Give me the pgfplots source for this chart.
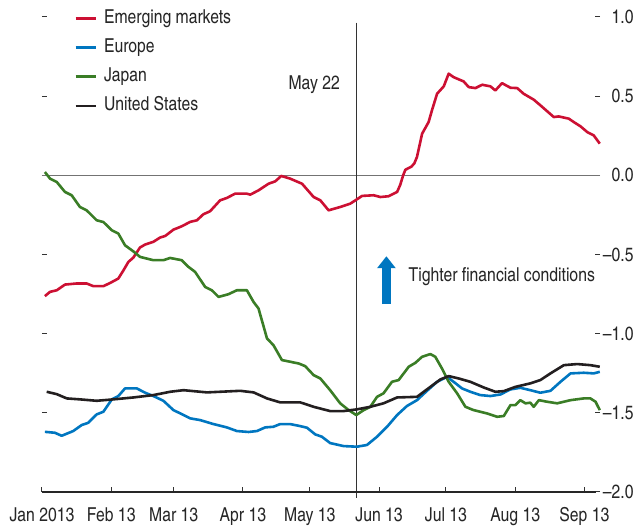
\documentclass[border=0pt]{standalone}
\usepackage{fontspec}
\setmainfont{texgyreheroscn-regular.otf}
\usepackage{pgfplots}
\pgfplotsset{compat=1.18}
\usetikzlibrary{arrows.meta}
\definecolor{emred}{RGB}{204,16,51}
\definecolor{eublue}{RGB}{0,118,192}
\definecolor{jpgreen}{RGB}{58,125,38}
\definecolor{usblack}{RGB}{35,31,32}
\begin{document}
\begin{tikzpicture}[font=\fontsize{9.6}{11}\selectfont]
\begin{axis}[name=ax,
  scale only axis, width=279pt, height=237.5pt,
  xmin=0, xmax=250, ymin=-2, ymax=1,
  clip=false,
  axis line style={draw=none},
  xtick={0,31,59,90,120,151,181,212,243},
  xticklabels={Jan 2013,Feb 13,Mar 13,Apr 13,May 13,Jun 13,Jul 13,Aug 13,Sep 13},
  ytick={-2,-1.5,-1,-0.5,0,0.5,1},
  yticklabels={–2.0,–1.5,–1.0,–0.5,0.0,0.5,1.0},
  xtick pos=bottom, ytick pos=both, yticklabel pos=right,
  tick align=inside, major tick length=2.5pt,
  tick style={line width=0.5pt, color=black!80},
  xticklabel style={anchor=base, yshift=-15pt, inner sep=0pt, text=black!85},
  yticklabel style={anchor=east, xshift=17pt, inner sep=0pt, text=black!85},
  legend cell align=left,
  legend image code/.code={\draw[#1] (0pt,0pt) -- (10pt,0pt);},
  legend style={draw=none, fill=none, at={(rel axis cs:0,1)}, anchor=north west,
    xshift=16pt, yshift=4pt, inner sep=0pt, row sep=5.6pt,
    nodes={inner sep=0pt, text height=7pt, text depth=2pt, text=black!85},
    /tikz/every odd column/.append style={column sep=3.5pt}},
  every axis plot/.append style={line width=1.3pt, line join=round},
]
\draw[black!55, line width=0.6pt] (axis cs:0,0) -- (axis cs:250,0);
\draw[black!80, line width=0.5pt] (axis cs:141,0.965) -- (axis cs:141,-2.04);
\draw[black!85, line width=0.6pt] (axis cs:0,-2) -- (axis cs:248,-2);

\addplot[color=emred] coordinates {
(1.3,-0.763)(3.6,-0.736)(6.6,-0.726)(10.3,-0.69)(15.6,-0.683)(20.0,-0.683)(23.0,-0.70)(27.5,-0.70)(30.5,-0.68)(34.2,-0.652)(36.5,-0.60)(38.7,-0.547)(40.9,-0.52)(43.9,-0.456)(46.2,-0.437)(49.9,-0.42)(52.9,-0.393)(55.2,-0.383)(58.9,-0.343)(62.6,-0.322)(66.4,-0.294)(69.4,-0.284)(72.3,-0.246)(75.3,-0.227)(79.8,-0.158)(82.8,-0.143)(86.5,-0.116)(91.8,-0.116)(93.3,-0.122)(97.0,-0.095)(101.5,-0.053)(104.5,-0.038)(107.2,-0.004)(111.2,-0.021)(116.5,-0.053)(121.7,-0.137)(124.7,-0.158)(128.4,-0.221)(133.6,-0.2)(138.1,-0.179)(140.4,-0.158)(143.4,-0.13)(148.6,-0.126)(151.6,-0.137)(155.3,-0.132)(159.1,-0.105)(160.5,-0.06)(161.8,0.0)(162.8,0.035)(165.5,0.055)(166.8,0.075)(168.0,0.116)(170.3,0.263)(173.2,0.336)(174.7,0.41)(177.0,0.515)(180.0,0.562)(182.2,0.642)(184.4,0.62)(188.9,0.593)(191.2,0.557)(194.2,0.551)(197.2,0.572)(200.9,0.562)(203.1,0.536)(206.1,0.582)(209.9,0.553)(212.9,0.551)(215.8,0.515)(220.3,0.478)(223.3,0.442)(229.3,0.368)(231.5,0.372)(236.0,0.358)(238.3,0.336)(241.3,0.309)(244.3,0.273)(247.2,0.252)(249.9,0.2)
};
\addlegendentry{Emerging markets}
\addplot[color=eublue] coordinates {
(1.3,-1.62)(5.8,-1.626)(8.8,-1.645)(14.0,-1.615)(17.8,-1.577)(20.7,-1.563)(24.5,-1.51)(27.5,-1.493)(31.3,-1.415)(34.2,-1.394)(37.2,-1.346)(42.5,-1.346)(46.2,-1.373)(49.9,-1.394)(54.4,-1.424)(58.9,-1.483)(62.6,-1.508)(66.4,-1.535)(70.9,-1.546)(76.8,-1.571)(82.8,-1.592)(87.3,-1.615)(92.5,-1.621)(96.3,-1.615)(100.0,-1.592)(103.7,-1.588)(106.7,-1.571)(111.2,-1.571)(115.7,-1.584)(118.7,-1.594)(122.4,-1.636)(125.4,-1.651)(129.1,-1.691)(135.1,-1.71)(141.1,-1.714)(145.6,-1.703)(150.1,-1.651)(154.6,-1.588)(159.1,-1.514)(163.5,-1.457)(168.0,-1.42)(172.5,-1.361)(177.0,-1.304)(181.5,-1.273)(184.4,-1.304)(188.2,-1.346)(191.9,-1.367)(196.4,-1.388)(200.9,-1.394)(205.4,-1.384)(209.9,-1.352)(214.3,-1.342)(218.8,-1.357)(223.3,-1.373)(227.8,-1.361)(232.3,-1.304)(236.8,-1.251)(242.7,-1.247)(247.2,-1.251)(249.9,-1.241)
};
\addlegendentry{Europe}
\addplot[color=jpgreen] coordinates {
(1.3,0.021)(3.6,-0.021)(6.6,-0.042)(10.3,-0.105)(13.3,-0.126)(17.0,-0.2)(20.0,-0.221)(24.5,-0.284)(27.5,-0.295)(31.3,-0.347)(34.2,-0.368)(37.2,-0.442)(40.9,-0.48)(43.9,-0.515)(49.9,-0.536)(54.4,-0.536)(57.4,-0.522)(62.6,-0.536)(65.6,-0.578)(68.6,-0.61)(73.1,-0.705)(76.1,-0.726)(79.1,-0.768)(83.5,-0.751)(87.3,-0.726)(91.8,-0.726)(94.8,-0.8)(97.0,-0.841)(100.8,-1.03)(103.7,-1.073)(107.5,-1.167)(114.9,-1.188)(117.9,-1.205)(121.7,-1.262)(124.7,-1.283)(129.1,-1.357)(133.6,-1.44)(137.4,-1.483)(140.8,-1.514)(144.1,-1.483)(147.1,-1.462)(150.1,-1.399)(153.0,-1.377)(156.8,-1.304)(159.8,-1.293)(164.3,-1.209)(167.3,-1.184)(170.3,-1.146)(174.0,-1.129)(176.2,-1.146)(179.2,-1.22)(182.2,-1.304)(186.0,-1.377)(189.7,-1.462)(193.4,-1.483)(199.4,-1.504)(203.9,-1.525)(206.9,-1.52)(209.9,-1.451)(212.1,-1.451)(214.3,-1.42)(216.6,-1.44)(218.8,-1.436)(220.3,-1.462)(222.6,-1.42)(226.3,-1.43)(230.8,-1.44)(236.8,-1.42)(242.7,-1.409)(245.7,-1.409)(248.0,-1.43)(249.9,-1.483)
};
\addlegendentry{Japan}
\addplot[color=usblack] coordinates {
(2.1,-1.367)(6.6,-1.382)(11.1,-1.409)(17.0,-1.415)(24.5,-1.424)(32.0,-1.415)(40.9,-1.403)(49.9,-1.388)(57.4,-1.367)(63.4,-1.357)(73.9,-1.371)(88.8,-1.361)(94.8,-1.371)(100.8,-1.409)(106.7,-1.434)(115.7,-1.434)(121.7,-1.462)(129.1,-1.489)(135.1,-1.489)(141.1,-1.478)(147.1,-1.462)(153.0,-1.44)(159.1,-1.403)(168.0,-1.399)(174.0,-1.336)(178.5,-1.289)(182.2,-1.268)(186.7,-1.283)(191.9,-1.304)(197.9,-1.34)(203.1,-1.367)(206.9,-1.363)(212.1,-1.336)(218.8,-1.314)(223.3,-1.293)(227.8,-1.251)(233.8,-1.199)(239.8,-1.192)(245.7,-1.199)(249.9,-1.209)
};
\addlegendentry{United States}

\draw[-{Triangle[width=9pt,length=6pt]}, line width=4.5pt, color=eublue] (axis cs:154.3,-0.814) -- (axis cs:154.3,-0.511);
\node[anchor=west, inner sep=0pt, text=black!85] at (axis cs:164.1,-0.642) {Tighter financial conditions};
\node[anchor=east, inner sep=0pt, text=black!85] at (axis cs:133.6,0.574) {May 22};
\end{axis}
\path[use as bounding box] ([xshift=-21pt,yshift=-17.5pt]ax.south west) rectangle ([xshift=20.5pt,yshift=8.5pt]ax.north east);
\end{tikzpicture}
\end{document}
